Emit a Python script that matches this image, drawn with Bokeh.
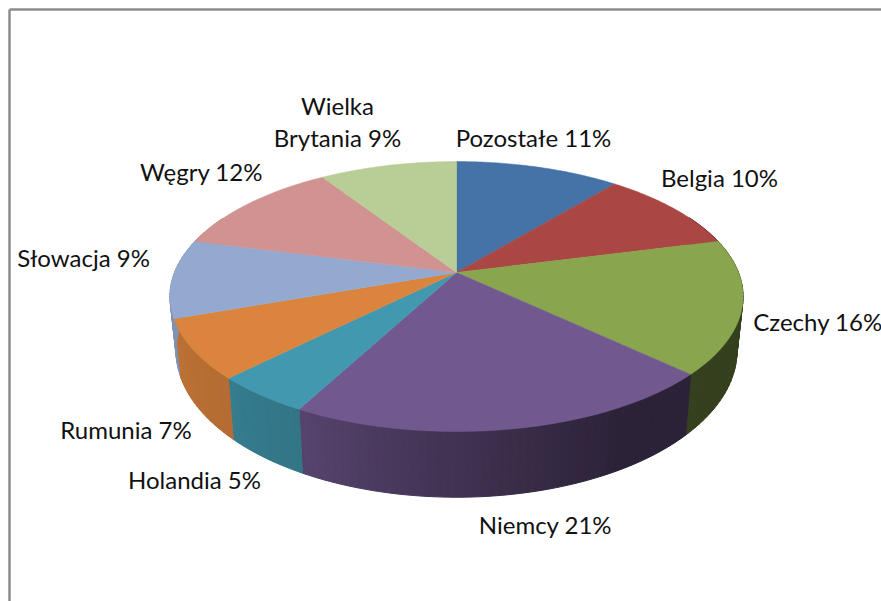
import numpy as np
from bokeh.plotting import figure
from bokeh.models import ColumnDataSource, Range1d
from bokeh.core.properties import value
from bokeh.embed import file_html
from bokeh.resources import INLINE

labels = ["Pozostałe 11%", "Belgia 10%", "Czechy 16%", "Niemcy 21%", "Holandia 5%",
          "Rumunia 7%", "Słowacja 9%", "Węgry 12%", "Wielka\nBrytania 9%"]
shares = [11.0, 10.0, 16.0, 20.8, 4.7, 7.1, 9.4, 11.8, 9.2]
colors = ["#4572A7", "#AA4643", "#89A54E", "#71588F", "#4198AF",
          "#DB843D", "#93A9CF", "#D19392", "#B9CD96"]
label_x = [533, 719, 817.5, 545, 194, 125.5, 83, 201, 337]
label_y = [137, 177, 321, 524, 479, 429, 257, 171, 121]

W, H = 881, 601
CX, CY = 456, 272
A, B, K = 282, 130.7, 0.178
A2, B2, CY2 = 276, 142, 324

def top(th):
    u, v = np.sin(th), np.cos(th)
    d = 1 + K * v
    return CX + A * u / d, CY - B * v / d

def bottom(th):
    u, v = np.sin(th), np.cos(th)
    d = 1 + K * v
    return CX + A2 * u / d, CY2 - B2 * v / d

def shade(hex_color, f):
    r, g, b = int(hex_color[1:3], 16), int(hex_color[3:5], 16), int(hex_color[5:7], 16)
    return "#%02x%02x%02x" % (int(r * f), int(g * f), int(b * f))

p = figure(width=W, height=H, output_backend="svg", toolbar_location=None,
           x_range=Range1d(0, W), y_range=Range1d(H, 0),
           min_border=0, outline_line_color=None)
p.axis.visible = False
p.grid.visible = False
p.background_fill_color = "white"

# frame
p.line([9, 9], [9, 620], line_color="#8c8c8c", line_width=2.5)
p.line([9, 900], [9, 9], line_color="#8c8c8c", line_width=2.5)

edges = np.cumsum([0.0] + shares) / sum(shares) * 2 * np.pi

shade_deg = [60, 150, 180, 208, 225, 250, 300]
shade_val = [0.38, 0.39, 0.57, 0.77, 0.82, 0.86, 0.92]

wx, wy, wc = [], [], []
for i, c in enumerate(colors):
    a0, a1 = edges[i], edges[i + 1]
    steps = max(2, int(np.degrees(a1 - a0) / 1.5))
    ts = np.linspace(a0, a1, steps + 1)
    for t0, t1 in zip(ts[:-1], ts[1:]):
        mid = 0.5 * (t0 + t1)
        if np.cos(mid) > 0.45:
            continue
        x0, y0 = top(t0)
        x1, y1 = top(t1)
        x2, y2 = bottom(t1)
        x3, y3 = bottom(t0)
        wx.append([x0, x1, x2, x3])
        wy.append([y0, y1, y2, y3])
        wc.append(shade(c, np.interp(np.degrees(mid), shade_deg, shade_val)))
p.patches(wx, wy, fill_color=wc, line_color=wc, line_width=1.0)

fx, fy = [], []
for i in range(len(shares)):
    ts = np.linspace(edges[i], edges[i + 1], 60)
    x, y = top(ts)
    fx.append(np.r_[CX, x].tolist())
    fy.append(np.r_[CY, y].tolist())
p.patches(fx, fy, fill_color=colors, line_color=colors, line_width=0.5)

src = ColumnDataSource(dict(x=label_x, y=label_y, t=labels))
p.text("x", "y", text="t", source=src, text_font=value("Lato"), text_font_size="24px",
       text_color="#111111", text_align="center", text_baseline="middle", text_line_height=1.09)

open("out.html", "w").write(file_html(p, INLINE))
